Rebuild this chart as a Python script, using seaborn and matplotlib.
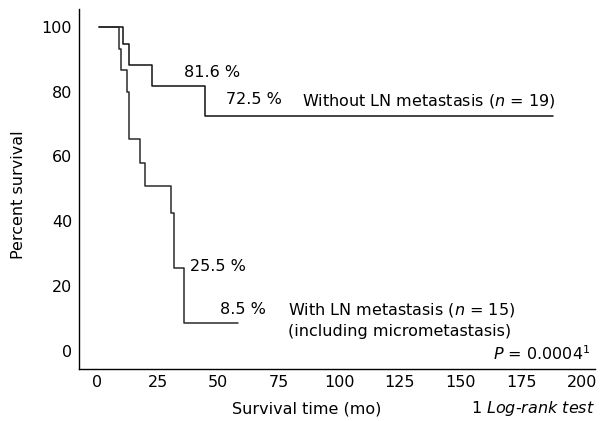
import numpy as np
import pandas as pd
import matplotlib
matplotlib.use("Agg")
import matplotlib.pyplot as plt
import seaborn as sns

# Kaplan-Meier step data
t_without = [1, 10.8, 13.2, 22.6, 44.4, 188]
s_without = [100, 94.7, 88.2, 81.6, 72.5, 72.5]
t_with = [1, 8.9, 9.9, 12.2, 13.3, 17.7, 19.9, 30.5, 31.7, 35.8, 58.4]
s_with = [100, 93.3, 86.7, 80.0, 65.3, 58.0, 51.0, 42.5, 25.5, 8.5, 8.5]
groups = ["Without LN metastasis", "With LN metastasis"]

x_ticks = [0, 25, 50, 75, 100, 125, 150, 175, 200]
y_major = [0, 20, 40, 60, 80, 100]
y_minor = [10, 30, 50, 70, 90]

df = pd.concat([
    pd.DataFrame({"time": t_without, "surv": s_without, "group": groups[0]}),
    pd.DataFrame({"time": t_with, "surv": s_with, "group": groups[1]}),
])

sns.set_style("white")
plt.rcParams["font.family"] = ["DejaVu Sans"]
plt.rcParams["mathtext.fontset"] = "dejavusans"
plt.rcParams["text.color"] = "black"
plt.rcParams["axes.labelcolor"] = "black"
plt.rcParams["xtick.color"] = "black"
plt.rcParams["ytick.color"] = "black"
FS = 11.5

fig = plt.figure(figsize=(6.01, 4.21), dpi=100)
ax = fig.add_axes([79 / 601, 52 / 421, 516 / 601, 360 / 421])

sns.lineplot(data=df, x="time", y="surv", hue="group", estimator=None,
             palette={groups[0]: "#111111", groups[1]: "#2a2a2a"},
             drawstyle="steps-post", linewidth=1.1, legend=False, ax=ax, sort=True)

ax.set_xlim(-7.4, 205.5)
ax.set_ylim(-5.6, 105.5)
ax.set_xticks(x_ticks)
ax.set_yticks(y_major)
ax.set_yticks(y_minor, minor=True)
ax.tick_params(axis="both", which="both", direction="in", length=6, width=0.9,
               color="#555555", labelsize=FS, labelcolor="black")
ax.tick_params(axis="y", pad=5)
ax.tick_params(axis="x", pad=4)
for side in ["top", "right"]:
    ax.spines[side].set_visible(False)
for side in ["left", "bottom"]:
    ax.spines[side].set_color("black")
    ax.spines[side].set_linewidth(1.0)

ax.set_xlabel("Survival time (mo)", fontsize=FS, color="black")
ax.xaxis.set_label_coords(0.442, -0.089)
ax.set_ylabel("Percent survival", fontsize=FS, color="black")
ax.yaxis.set_label_coords(-0.103, 0.483)

kw = dict(fontsize=FS, color="black", va="center")
ax.text(35.8, 85.8, "81.6 %", ha="left", **kw)
ax.text(53.1, 77.5, "72.5 %", ha="left", **kw)
ax.text(84.8, 77.2, r"Without LN metastasis ($\it{n}$ = 19)", ha="left", **kw)
ax.text(38.3, 25.9, "25.5 %", ha="left", **kw)
ax.text(50.6, 12.7, "8.5 %", ha="left", **kw)
ax.text(79.0, 12.7, r"With LN metastasis ($\it{n}$ = 15)", ha="left", **kw)
ax.text(79.0, 5.9, "(including micrometastasis)", ha="left", **kw)
ax.text(203.7, -0.9, r"$\it{P}$ = 0.0004$^{1}$", ha="right", **kw)

fig.text(595 / 601, (421 - 409) / 421, r"1 $\it{Log}$-$\it{rank\ test}$",
         ha="right", **kw)

fig.savefig("out.png", dpi=100)
